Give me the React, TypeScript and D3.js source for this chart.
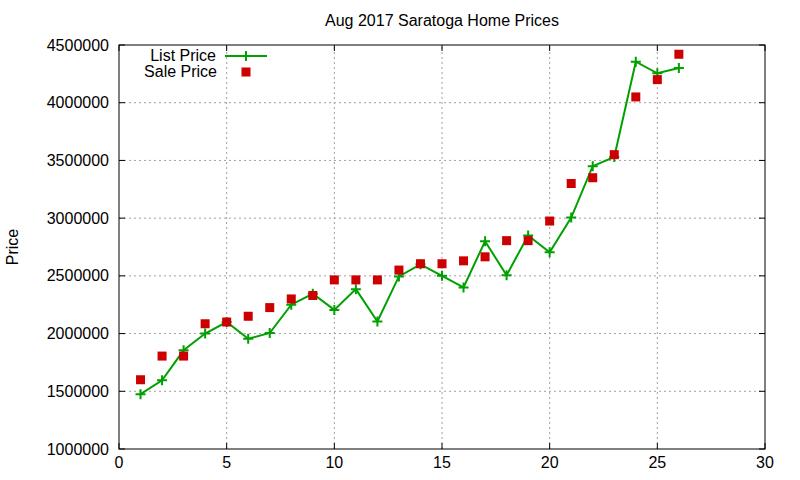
import { useEffect } from "react";
import * as d3 from "d3";

const days = [1, 2, 3, 4, 5, 6, 7, 8, 9, 10, 11, 12, 13, 14, 15, 16, 17, 18, 19, 20, 21, 22, 23, 24, 25, 26];
const listPrice = [
  1475000, 1595000, 1855000, 2000000, 2100000, 1955000, 2005000, 2250000, 2345000, 2205000,
  2385000, 2105000, 2495000, 2600000, 2500000, 2400000, 2800000, 2505000, 2850000, 2705000,
  3005000, 3450000, 3530000, 4355000, 4255000, 4300000,
];
const salePrice = [
  1600000, 1805000, 1805000, 2085000, 2100000, 2150000, 2225000, 2300000, 2330000, 2465000,
  2465000, 2465000, 2550000, 2605000, 2605000, 2630000, 2665000, 2805000, 2805000, 2975000,
  3300000, 3350000, 3550000, 4050000, 4200000, 4420000,
];
const xTicks = [0, 5, 10, 15, 20, 25, 30];
const yTicks = [1000000, 1500000, 2000000, 2500000, 3000000, 3500000, 4000000, 4500000];

const W = 800;
const H = 480;
const M = { left: 119, right: 35, top: 45, bottom: 31 };
const FONT = "'Liberation Sans', Arial, sans-serif";
const GREEN = "#00a000";
const RED = "#cc0000";

export default function App() {
  useEffect(() => {
    document.body.style.margin = "0";
  }, []);

  const x = d3.scaleLinear().domain([0, 30]).range([M.left, W - M.right]);
  const y = d3.scaleLinear().domain([1000000, 4500000]).range([H - M.bottom, M.top]);
  const line = d3
    .line<number>()
    .x((_, i) => x(days[i]))
    .y((d) => y(d));

  const x0 = x.range()[0];
  const x1 = x.range()[1];
  const y0 = y.range()[0];
  const y1 = y.range()[1];
  const tl = 6;

  return (
    <svg width={W} height={H} style={{ display: "block" }} fontFamily={FONT}>
      <rect width={W} height={H} fill="#fff" />
      {/* grid */}
      {xTicks.slice(1, -1).map((t) => (
        <line key={"gx" + t} x1={x(t)} x2={x(t)} y1={y0} y2={y1} stroke="#a0a0a0" strokeDasharray="2,3" />
      ))}
      {yTicks.slice(1, -1).map((t) => (
        <line key={"gy" + t} x1={x0} x2={x1} y1={y(t)} y2={y(t)} stroke="#a0a0a0" strokeDasharray="2,3" />
      ))}
      {/* ticks */}
      {xTicks.map((t) => (
        <g key={"tx" + t}>
          <line x1={x(t)} x2={x(t)} y1={y0} y2={y0 - tl} stroke="#000" />
          <line x1={x(t)} x2={x(t)} y1={y1} y2={y1 + tl} stroke="#000" />
          <text x={x(t)} y={y0 + 19} textAnchor="middle" fontSize={16}>
            {t}
          </text>
        </g>
      ))}
      {yTicks.map((t) => (
        <g key={"ty" + t}>
          <line x1={x0} x2={x0 + tl} y1={y(t)} y2={y(t)} stroke="#000" />
          <line x1={x1} x2={x1 - tl} y1={y(t)} y2={y(t)} stroke="#000" />
          <text x={x0 - 10} y={y(t) + 5.5} textAnchor="end" fontSize={16}>
            {t}
          </text>
        </g>
      ))}
      <rect x={x0} y={y1} width={x1 - x0} height={y0 - y1} fill="none" stroke="#000" strokeWidth={1} />
      {/* title and axis label */}
      <text x={(x0 + x1) / 2} y={26} textAnchor="middle" fontSize={16}>
        Aug 2017 Saratoga Home Prices
      </text>
      <text transform={`translate(18,${(y0 + y1) / 2}) rotate(-90)`} textAnchor="middle" fontSize={16}>
        Price
      </text>
      {/* list price */}
      <path d={line(listPrice) ?? ""} fill="none" stroke={GREEN} strokeWidth={2} />
      {listPrice.map((v, i) => (
        <path
          key={"lp" + i}
          d={`M${x(days[i]) - 5},${y(v)}h10M${x(days[i])},${y(v) - 5}v10`}
          stroke={GREEN}
          strokeWidth={2}
        />
      ))}
      {/* sale price */}
      {salePrice.map((v, i) => (
        <rect key={"sp" + i} x={x(days[i]) - 4.5} y={y(v) - 4.5} width={9} height={9} fill={RED} />
      ))}
      {/* legend */}
      <text x={216} y={61} textAnchor="end" fontSize={16}>
        List Price
      </text>
      <line x1={225} x2={267} y1={56} y2={56} stroke={GREEN} strokeWidth={2} />
      <path d="M241,56h10M246,51v10" stroke={GREEN} strokeWidth={2} />
      <text x={217} y={77} textAnchor="end" fontSize={16}>
        Sale Price
      </text>
      <rect x={241.5} y={67.5} width={9} height={9} fill={RED} />
    </svg>
  );
}
